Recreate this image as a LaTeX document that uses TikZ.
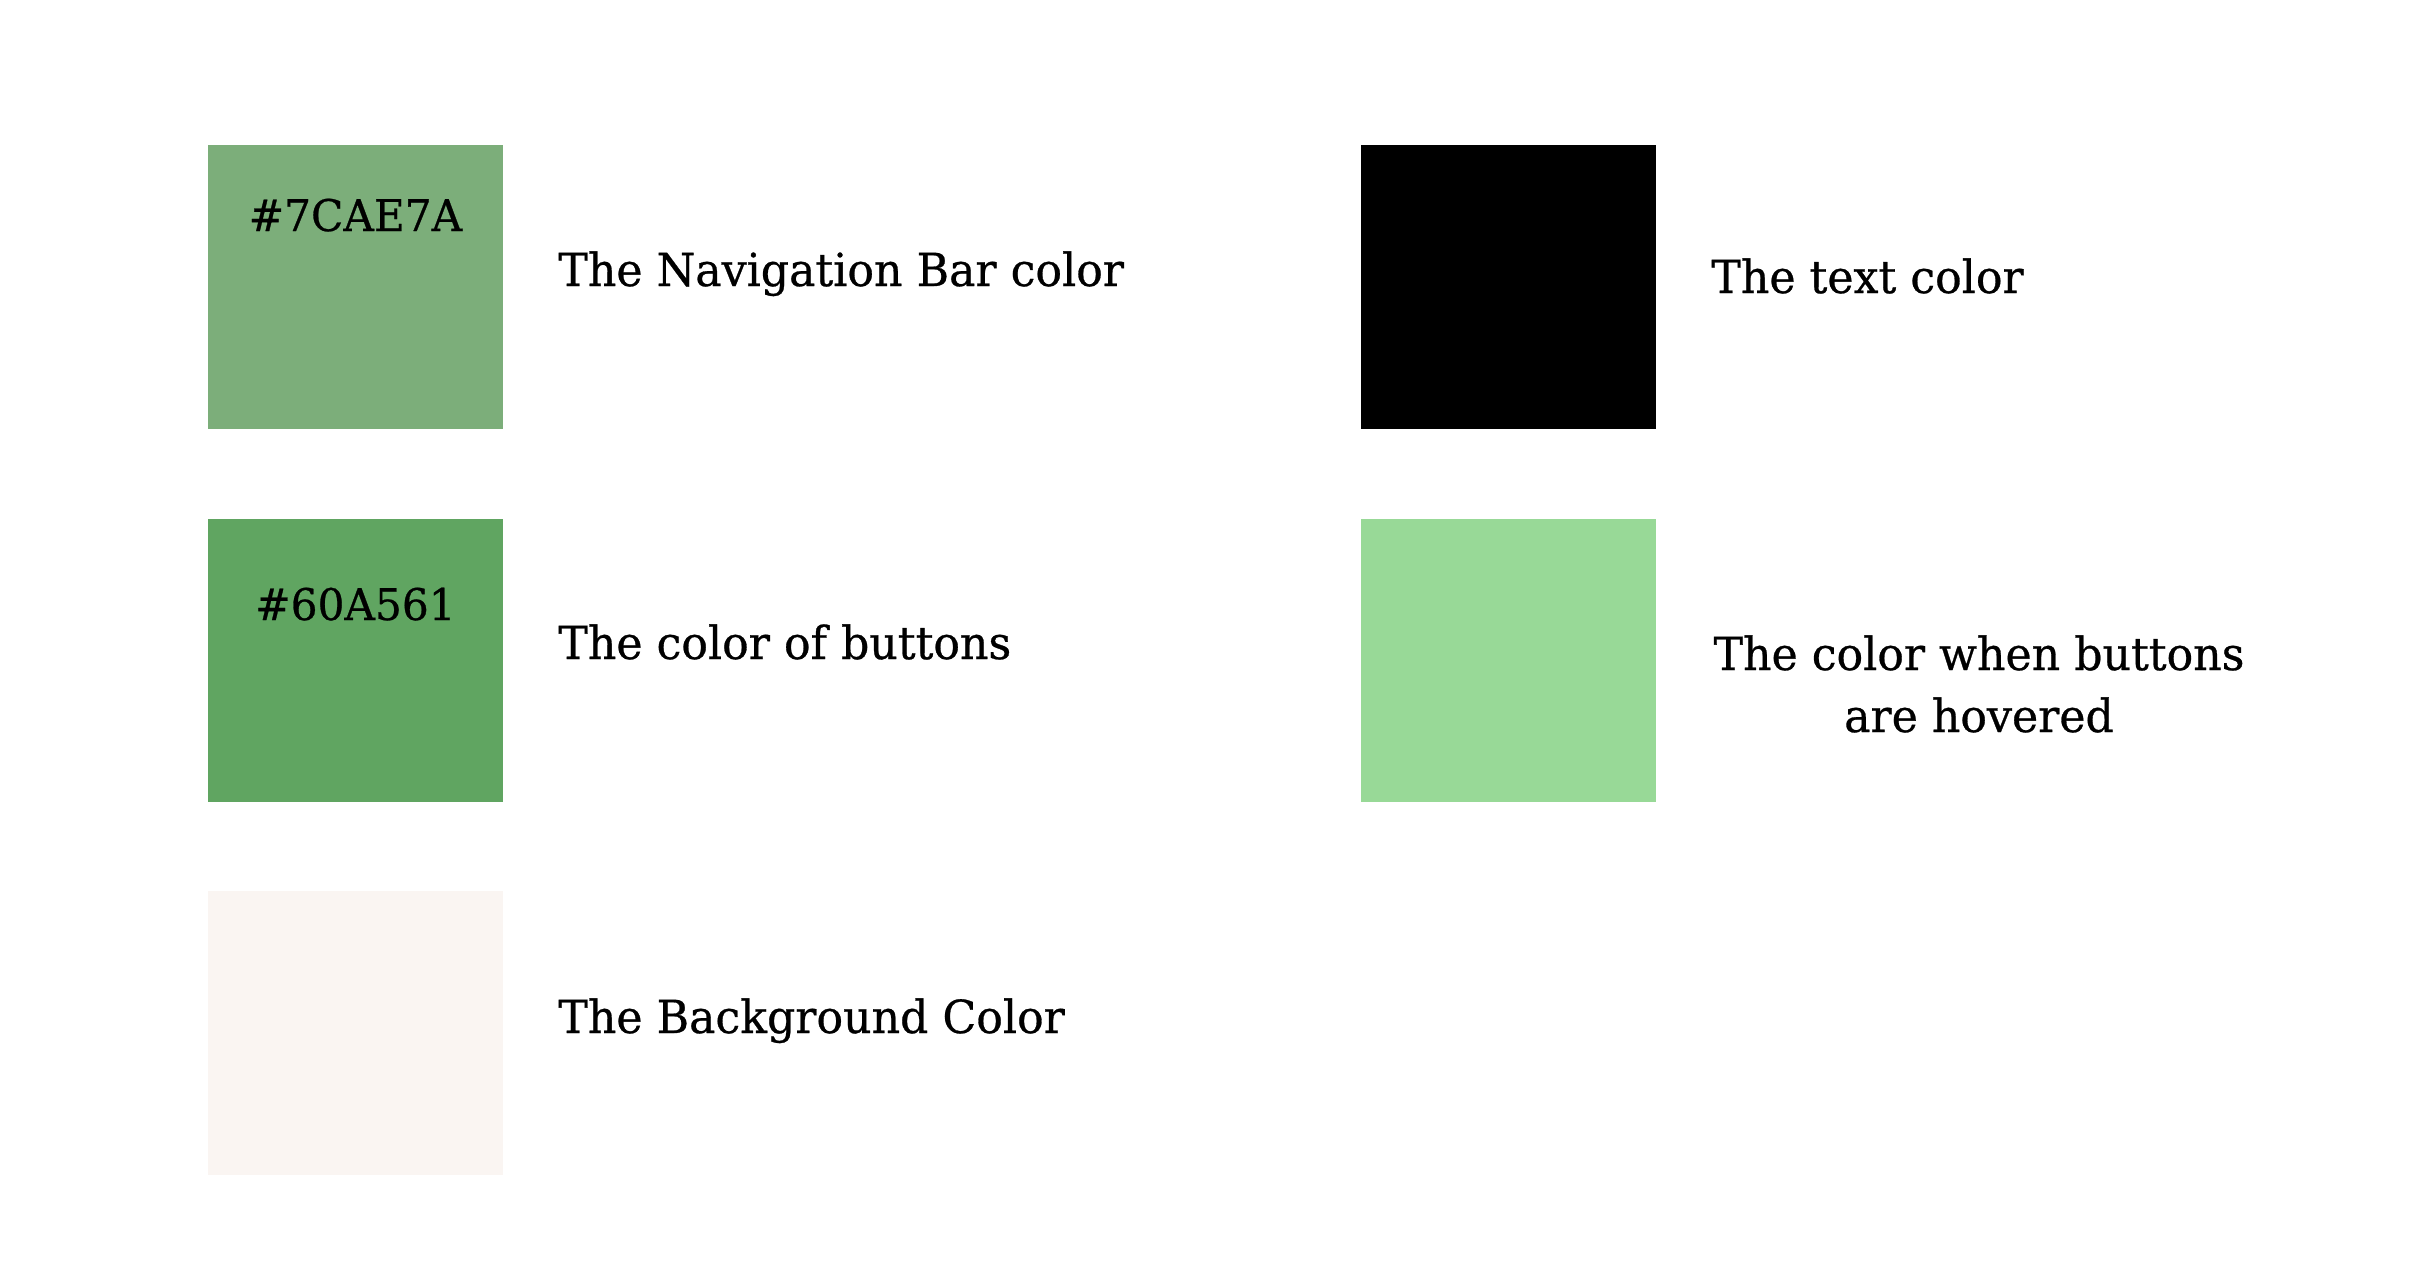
\documentclass[tikz,border=0pt]{standalone}
\usepackage{fontspec}
\setmainfont{DejaVu Serif}[FakeStretch=0.97,FakeBold=0.6]
\definecolor{navgreen}{HTML}{7CAE7A}
\definecolor{btngreen}{HTML}{60A561}
\definecolor{hovgreen}{HTML}{98D997}
\definecolor{bgcream}{HTML}{FAF5F2}
\begin{document}
\begin{tikzpicture}[x=0.5pt,y=-0.5pt,
  swatch/.style={inner sep=0, outer sep=0},
  lbl/.style={inner sep=0, anchor=base west, font=\fontsize{22.8pt}{31pt}\selectfont},
  hex/.style={inner sep=0, anchor=base, font=\fontsize{21.8pt}{28pt}\selectfont}]
\useasboundingbox (0,0) rectangle (2422,1266);
\fill[white] (0,0) rectangle (2422,1266);
% swatches
\fill[navgreen] (208,145) rectangle (503,429);
\fill[btngreen] (208,519) rectangle (503,802);
\fill[bgcream] (208,891) rectangle (503,1175);
\fill[black] (1361,145) rectangle (1656,429);
\fill[hovgreen] (1361,519) rectangle (1656,802);
\node[swatch] (nav) at (355.5,287) {};
\node[swatch] (btn) at (355.5,660) {};
\node[swatch] (bgc) at (355.5,1033) {};
\node[swatch] (txt) at (1508.5,287) {};
\node[swatch] (hov) at (1508.5,660) {};
% hex codes
\node[hex] (navhex) at (355.5,231) {\#7CAE7A};
\node[hex] (btnhex) at (355.5,620) {\#60A561};
% labels
\node[lbl] (navlbl) at (558,286) {The Navigation Bar color};
\node[lbl] (btnlbl) at (558,659) {The color of buttons};
\node[lbl] (bglbl) at (558,1033) {The Background Color};
\node[lbl] (txtlbl) at (1711,293) {The text color};
\node[lbl, anchor=center, align=center] (hovlbl) at (1979,684) {The color when buttons\\are hovered};
\end{tikzpicture}
\end{document}
